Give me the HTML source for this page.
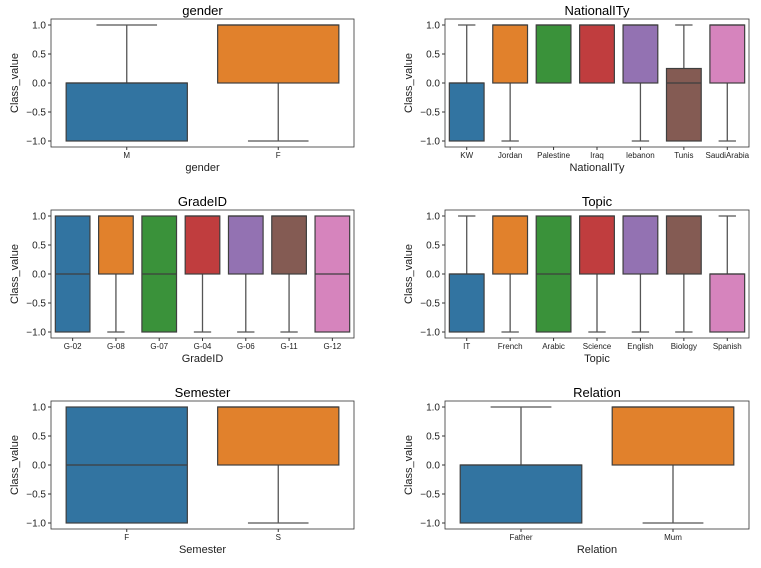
<!DOCTYPE html>
<html><head><meta charset="utf-8"><style>
body{margin:0;background:#fff;width:761px;height:563px;overflow:hidden}
svg{font-family:"Liberation Sans","DejaVu Sans",sans-serif}
</style></head><body>
<svg id="fig" width="761" height="563" viewBox="0 0 761 563"></svg>
<script>
const titles=["gender","NationalITy","GradeID","Topic","Semester","Relation"];
const cats=[["M","F"],["KW","Jordan","Palestine","Iraq","lebanon","Tunis","SaudiArabia"],["G-02","G-08","G-07","G-04","G-06","G-11","G-12"],["IT","French","Arabic","Science","English","Biology","Spanish"],["F","S"],["Father","Mum"]];
// [whiskerLow, q1, median, q3, whiskerHigh]
const stats=[
[[-1,-1,0,0,1],[-1,0,1,1,1]],
[[-1,-1,0,0,1],[-1,0,1,1,1],[0,0,1,1,1],[0,0,1,1,1],[-1,0,1,1,1],[-1,-1,0,0.25,1],[-1,0,1,1,1]],
[[-1,-1,0,1,1],[-1,0,1,1,1],[-1,-1,0,1,1],[-1,0,1,1,1],[-1,0,1,1,1],[-1,0,1,1,1],[-1,-1,0,1,1]],
[[-1,-1,0,0,1],[-1,0,1,1,1],[-1,-1,0,1,1],[-1,0,1,1,1],[-1,0,1,1,1],[-1,0,1,1,1],[-1,-1,0,0,1]],
[[-1,-1,0,1,1],[-1,0,1,1,1]],
[[-1,-1,0,0,1],[-1,0,1,1,1]]
];
const yTicks=[1,0.5,0,-0.5,-1];
const yTickLabels=["1.0","0.5","0.0","\u22120.5","\u22121.0"];
const colors=["#3274a1","#e1812c","#3a923a","#c03d3e","#9372b2","#845b53","#d684bd"];
const NS="http://www.w3.org/2000/svg";
const svg=document.getElementById('fig');
function mk(tag,attrs,parent,text){const e=document.createElementNS(NS,tag);for(const k in attrs)e.setAttribute(k,attrs[k]);if(text!==undefined)e.textContent=text;parent.appendChild(e);return e;}
for(let p=0;p<6;p++){
  const col=p%2,row=Math.floor(p/2);
  const L=col?445:51,R=col?749:354,off=row*191;
  const top=19+off,bot=147+off,y1=25+off,ym1=141+off;
  const ys=v=>ym1-(v+1)/2*(ym1-y1);
  const n=cats[p].length,cw=(R-L)/n;
  const xs=i=>L+cw*(i+0.5);
  const g=mk('g',{},svg);
  
  
  const t=mk('text',{x:(L+R)/2,y:top-4,'text-anchor':'middle','font-size':13},g,titles[p]);
  
  stats[p].forEach((s,i)=>{
    const cx=xs(i),w=cw*0.8,c=colors[i%7];
    const bg=mk('g',{},g);
    
    
    if(s[0]<s[1]){mk('line',{x1:cx,x2:cx,y1:ys(s[1]),y2:ys(s[0]),stroke:'#555','stroke-width':1.3},bg);mk('line',{x1:cx-w/4,x2:cx+w/4,y1:ys(s[0]),y2:ys(s[0]),stroke:'#555','stroke-width':1.3},bg);}
    if(s[4]>s[3]){mk('line',{x1:cx,x2:cx,y1:ys(s[3]),y2:ys(s[4]),stroke:'#555','stroke-width':1.3},bg);mk('line',{x1:cx-w/4,x2:cx+w/4,y1:ys(s[4]),y2:ys(s[4]),stroke:'#555','stroke-width':1.3},bg);}
    mk('rect',{x:cx-w/2,y:ys(s[3]),width:w,height:ys(s[1])-ys(s[3]),fill:c,stroke:'#3f3f3f','stroke-width':1.2},bg);
    mk('line',{x1:cx-w/2,x2:cx+w/2,y1:ys(s[2]),y2:ys(s[2]),stroke:'#3f3f3f','stroke-width':1.2},bg);
    mk('line',{x1:cx,x2:cx,y1:bot,y2:bot+3,stroke:'#333'},g);
    const tl=mk('text',{x:cx,y:bot+11,'text-anchor':'middle','font-size':8,fill:'#222'},g,cats[p][i]);
    
  });
  yTicks.forEach((v,k)=>{
    mk('line',{x1:L-3,x2:L,y1:ys(v),y2:ys(v),stroke:'#333'},g);
    const yl=mk('text',{x:L-5,y:ys(v)+3.5,'text-anchor':'end','font-size':10,fill:'#222'},g,yTickLabels[k]);
    
  });
  mk('rect',{x:L,y:top,width:R-L,height:bot-top,fill:'none',stroke:'#333','stroke-width':0.8},g);
  const xl=mk('text',{x:(L+R)/2,y:bot+24,'text-anchor':'middle','font-size':11,fill:'#222'},g,titles[p]);
  
  const yt=mk('text',{x:0,y:0,'text-anchor':'middle','font-size':11,fill:'#222',transform:`translate(${L-33},${(top+bot)/2}) rotate(-90)`},g,'Class_value');
  
}
</script>
</body></html>
